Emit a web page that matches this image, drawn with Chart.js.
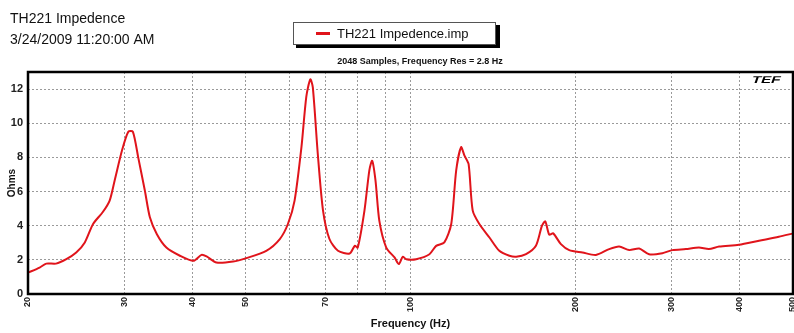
<!DOCTYPE html>
<html>
<head>
<meta charset="utf-8">
<script src="https://cdn.jsdelivr.net/npm/chart.js@4/dist/chart.umd.min.js"></script>
<style>
  html, body { margin: 0; padding: 0; background: #fff; }
  #wrap { width: 794px; height: 333px; position: relative; }
</style>
</head>
<body>
<div id="wrap"><canvas id="impChart" width="794" height="333"></canvas></div>
<script>
// impedance sweep
const freqHz = [20, 21, 21.6, 22.5, 23.5, 24.5, 25.4, 26.3, 27.4, 28.2, 28.8, 29.7, 30.5, 31.1, 31.8, 32.7, 33.4, 34.4, 35.8, 37.9,
  40.1, 41.5, 42.4, 44.2, 47.4, 50.1, 54.5, 57.7, 59.7, 61.4, 63.2, 64.5, 65.6, 66.3, 67.7, 69.2, 71.1, 73.7, 77.4, 79.1,
  80.1, 82.4, 84.1, 85.1, 86.3, 87.7, 90.3, 93.5, 95.2, 96.8, 98.2, 102.4, 108.3, 111.4, 115.3, 118.7, 121.2, 123.7, 125.5, 127.7,
  129.9, 133.6, 139.4, 145.3, 151.6, 156, 162.6, 169.5, 173.9, 176.3, 179.3, 182.3, 188.3, 195, 206.2, 218.2, 230.7, 240.6, 251, 261.8,
  272.9, 288.6, 301, 318.5, 336.6, 351, 366.4, 398.2, 433.4, 471, 500];
const ohms = [1.25, 1.55, 1.78, 1.78, 2.04, 2.43, 3.02, 4.1, 4.8, 5.47, 6.65, 8.4, 9.5, 9.5, 8.0, 6.06, 4.49, 3.5, 2.72, 2.24,
  1.94, 2.29, 2.2, 1.84, 1.9, 2.1, 2.53, 3.22, 4.1, 5.47, 8.6, 11.55, 12.57, 12.1, 8.2, 4.9, 3.22, 2.53, 2.37, 2.82,
  2.72, 4.9, 7.24, 7.8, 6.65, 4.3, 2.72, 2.14, 1.75, 2.18, 2.04, 2.04, 2.33, 2.82, 3.02, 4.1, 7.24, 8.6, 8.1, 7.6,
  4.9, 4.1, 3.31, 2.53, 2.24, 2.18, 2.33, 2.82, 4.0, 4.25, 3.47, 3.55, 2.92, 2.57, 2.43, 2.29, 2.63, 2.78, 2.57, 2.66,
  2.33, 2.39, 2.57, 2.63, 2.72, 2.63, 2.78, 2.88, 3.12, 3.35, 3.55];

const xGridTicks = [20, 30, 40, 50, 60, 70, 80, 90, 100, 200, 300, 400, 500];
const xTickLabels = [20, 30, 40, 50, 70, 100, 200, 300, 400, 500];
const yTicks = [0, 2, 4, 6, 8, 10, 12];

const titleLines = ['TH221 Impedence', '3/24/2009 11:20:00 AM'];
const seriesName = 'TH221 Impedence.imp';
const subTitle = '2048 Samples, Frequency Res = 2.8 Hz';

const RED = '#e0141b';

// headers, legend box, frame and logo
const decorPlugin = {
  id: 'decor',
  afterDraw(chart) {
    const ctx = chart.ctx;
    const a = chart.chartArea;
    ctx.save();
    ctx.fillStyle = '#111';
    ctx.textBaseline = 'middle';
    ctx.textAlign = 'left';
    ctx.font = '14px "Liberation Sans", Arial, sans-serif';
    ctx.fillText(titleLines[0], 10, 19);
    ctx.fillText(titleLines[1], 10, 40);

    // legend box with drop shadow
    ctx.fillStyle = '#000';
    ctx.fillRect(296, 25, 204, 23);
    ctx.fillStyle = '#fff';
    ctx.fillRect(293, 22, 203, 23);
    ctx.strokeStyle = '#555';
    ctx.lineWidth = 1;
    ctx.strokeRect(293.5, 22.5, 202, 22);
    ctx.fillStyle = RED;
    ctx.fillRect(316, 32, 14, 3);
    ctx.fillStyle = '#111';
    ctx.font = '13px "Liberation Sans", Arial, sans-serif';
    ctx.fillText(seriesName, 337, 34);

    ctx.textAlign = 'center';
    ctx.font = 'bold 9px "Liberation Sans", Arial, sans-serif';
    ctx.fillText(subTitle, 420, 62);

    // plot frame
    ctx.strokeStyle = '#000';
    ctx.lineWidth = 2.5;
    ctx.strokeRect(a.left, a.top, a.right - a.left, a.bottom - a.top);

    // TEF mark
    ctx.save();
    ctx.translate(752, 80);
    ctx.transform(1.5, 0, -0.35, 1, 0, 0);
    ctx.textAlign = 'left';
    ctx.font = 'bold 10px "Liberation Sans", Arial, sans-serif';
    ctx.fillStyle = '#000';
    ctx.fillText('TEF', 0, 0);
    ctx.restore();
    ctx.restore();
  }
};

const ctx = document.getElementById('impChart').getContext('2d');
new Chart(ctx, {
  type: 'line',
  data: {
    datasets: [{
      label: seriesName,
      data: freqHz.map((f, i) => ({ x: f, y: ohms[i] })),
      borderColor: RED,
      borderWidth: 2,
      pointRadius: 0,
      tension: 0.25,
      fill: false
    }]
  },
  options: {
    responsive: false,
    animation: false,
    layout: { padding: { top: 72, right: 1, left: 0, bottom: 0 } },
    plugins: {
      legend: { display: false },
      tooltip: { enabled: false }
    },
    scales: {
      x: {
        type: 'logarithmic',
        min: 20,
        max: 500,
        afterBuildTicks(scale) {
          scale.ticks = xGridTicks.map(v => ({ value: v }));
        },
        afterFit(scale) {
          scale.height = 39;
          scale.paddingLeft = 0;
          scale.paddingRight = 0;
        },
        grid: { color: '#9a9a9a', drawTicks: false, lineWidth: 1 },
        border: { display: false, dash: [2, 2] },
        ticks: {
          autoSkip: false,
          minRotation: 90,
          maxRotation: 90,
          padding: 3,
          color: '#222',
          font: { size: 9, weight: 'bold', family: '"Liberation Sans", Arial, sans-serif' },
          callback: v => xTickLabels.includes(v) ? String(v) : ''
        },
        title: {
          display: true,
          text: 'Frequency (Hz)',
          color: '#111',
          padding: { top: 0, bottom: 2 },
          font: { size: 11, weight: 'bold', family: '"Liberation Sans", Arial, sans-serif' }
        }
      },
      y: {
        min: 0,
        max: 13,
        afterBuildTicks(scale) {
          scale.ticks = yTicks.map(v => ({ value: v }));
        },
        afterFit(scale) { scale.width = 28; },
        grid: { color: '#9a9a9a', drawTicks: false, lineWidth: 1 },
        border: { display: false, dash: [2, 2] },
        ticks: {
          padding: 5,
          color: '#222',
          font: { size: 11, weight: 'bold', family: '"Liberation Sans", Arial, sans-serif' }
        },
        title: {
          display: true,
          text: 'Ohms',
          color: '#111',
          padding: { top: 6, bottom: 0 },
          font: { size: 10, weight: 'bold', family: '"Liberation Sans", Arial, sans-serif' }
        }
      }
    }
  },
  plugins: [decorPlugin]
});
</script>
</body>
</html>
